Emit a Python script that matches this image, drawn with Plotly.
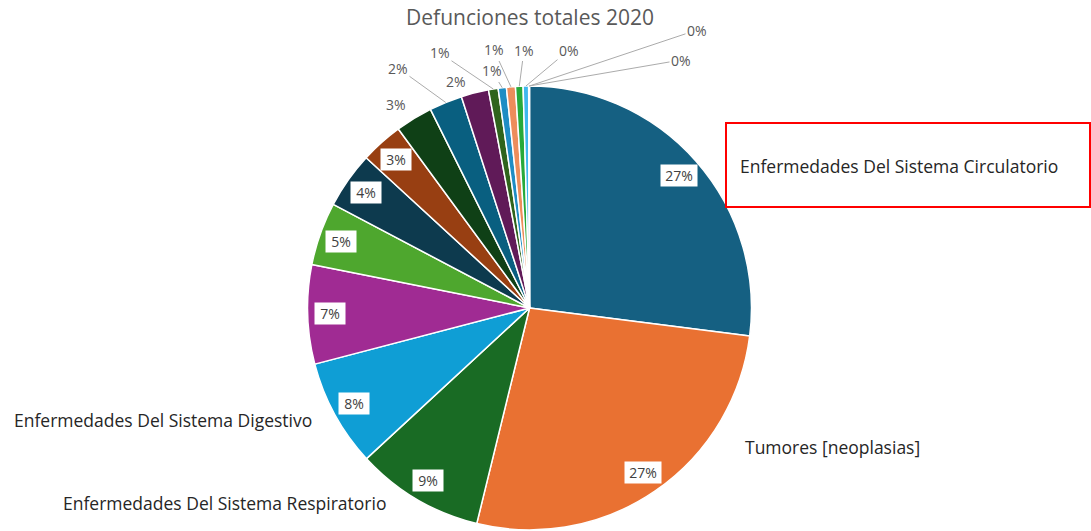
import math
import plotly.graph_objects as go

# ---------------- data ----------------
categorias = [
    "Enfermedades Del Sistema Circulatorio",
    "Tumores [neoplasias]",
    "Enfermedades Del Sistema Respiratorio",
    "Enfermedades Del Sistema Digestivo",
    "Enfermedades Endocrinas, Nutricionales Y Metabólicas",
    "Causas Externas De Morbilidad Y De Mortalidad",
    "Enfermedades Del Sistema Nervioso",
    "Trastornos Mentales Y Del Comportamiento",
    "Enfermedades Del Sistema Genitourinario",
    "Síntomas, Signos Y Hallazgos Anormales",
    "Ciertas Enfermedades Infecciosas Y Parasitarias",
    "Enfermedades De La Sangre Y Órganos Hematopoyéticos",
    "Enfermedades Del Sistema Osteomuscular",
    "Enfermedades De La Piel Y Del Tejido Subcutáneo",
    "Afecciones Originadas En El Periodo Perinatal",
    "Malformaciones Congénitas",
    "Embarazo, Parto Y Puerperio",
    "Enfermedades Del Oído Y De La Apófisis Mastoides",
]
valores = [27.0, 26.8, 9.3, 7.8, 7.2, 4.6, 4.1, 3.1, 2.7, 2.4, 2.0,
           0.7, 0.6, 0.65, 0.55, 0.4, 0.04, 0.02]
colores = ["#156082", "#E97132", "#196B24", "#0F9ED5", "#A02B93", "#4EA72E",
           "#0D3A4E", "#983F12", "#0F4016", "#095F80", "#601A58", "#2F641C",
           "#1F8DC4", "#ED8D5B", "#28A93A", "#3FB8EE", "#C74EB9", "#6FCB4D"]
titulo = "Defunciones totales 2020"
nombres_visibles = [0, 1, 2, 3]          # slices whose category name is shown
etiquetas_dentro = [0, 1, 2, 3, 4, 5, 6, 7]

# ---------------- layout settings ----------------
W, H = 1091, 531
dom_x = [0.2819, 0.6888]
dom_y = [0.002, 0.838]
FONT = "Open Sans"

# pixel positions of the outside percentage labels (layout only)
pos_fuera = {8: (396, 104), 9: (398, 68), 10: (456, 81), 11: (440, 53),
             12: (492, 71), 13: (494, 50), 14: (524, 50), 15: (569, 50),
             16: (681, 60), 17: (697, 30)}
con_guia = {9, 11, 12, 13, 14, 15, 16, 17}
# pixel positions (left x, centre y) of the category names
pos_nombres = {0: (738, 166), 1: (743, 447), 2: (61, 503), 3: (12, 420)}

fig = go.Figure(go.Pie(
    labels=categorias, values=valores, sort=False, direction="clockwise",
    rotation=0, marker=dict(colors=colores, line=dict(color="white", width=1.5)),
    textinfo="none", hoverinfo="label+percent", domain=dict(x=dom_x, y=dom_y),
    showlegend=False,
))

cx = (dom_x[0] + dom_x[1]) / 2 * W
cy = (1 - (dom_y[0] + dom_y[1]) / 2) * H
R = min((dom_x[1] - dom_x[0]) * W, (dom_y[1] - dom_y[0]) * H) / 2
total = sum(valores)


def px_to_paper(px, py):
    return px / W, 1 - py / H


anots = []
acum = 0.0
for i, v in enumerate(valores):
    mid = (acum + v / 2) / total * 2 * math.pi
    acum += v
    pct = f"{round(100 * v / total)}%"
    if i in etiquetas_dentro:
        r = 0.9 * R
        px, py = cx + r * math.sin(mid), cy - r * math.cos(mid)
        x, y = px_to_paper(px, py)
        anots.append(dict(x=x, y=y, xref="paper", yref="paper", text=pct,
                          xanchor="center", yanchor="middle",
                          showarrow=False, bgcolor="white", borderpad=0,
                          width=36 if len(pct) > 2 else 30, height=21,
                          font=dict(family=FONT, size=14, color="#404040")))
    else:
        tx, ty = pos_fuera[i]
        if i in con_guia:
            ax_px, ay_px = cx + R * math.sin(mid), cy - R * math.cos(mid)
            x, y = px_to_paper(ax_px, ay_px)
            anots.append(dict(x=x, y=y, xref="paper", yref="paper", text=pct,
                              xanchor="center", yanchor="middle",
                              showarrow=True, arrowhead=0, arrowwidth=1,
                              arrowcolor="#ABABAB", standoff=0,
                              ax=tx - ax_px, ay=ty - ay_px,
                              font=dict(family=FONT, size=14, color="#595959")))
        else:
            x, y = px_to_paper(tx, ty)
            anots.append(dict(x=x, y=y, xref="paper", yref="paper", text=pct,
                              xanchor="center", yanchor="middle",
                              showarrow=False,
                              font=dict(family=FONT, size=14, color="#595959")))

for i in nombres_visibles:
    lx, ly = pos_nombres[i]
    x, y = px_to_paper(lx, ly)
    anots.append(dict(x=x, y=y, xref="paper", yref="paper", text=categorias[i],
                      showarrow=False, xanchor="left", yanchor="middle",
                      font=dict(family=FONT, size=17.5, color="#262626")))

fig.update_layout(
    width=W, height=H, margin=dict(l=0, r=0, t=0, b=0),
    paper_bgcolor="white", plot_bgcolor="white",
    title=dict(text=titulo, x=530 / W, y=1 - 18 / H, xanchor="center",
               yanchor="middle", xref="paper", yref="container",
               font=dict(family=FONT, size=21, color="#595959")),
    annotations=anots,
    shapes=[dict(type="rect", xref="paper", yref="paper",
                 x0=726 / W, x1=1090 / W, y0=1 - 207 / H, y1=1 - 123 / H,
                 line=dict(color="#FF0000", width=2))],
)

fig.write_html("out.html")
